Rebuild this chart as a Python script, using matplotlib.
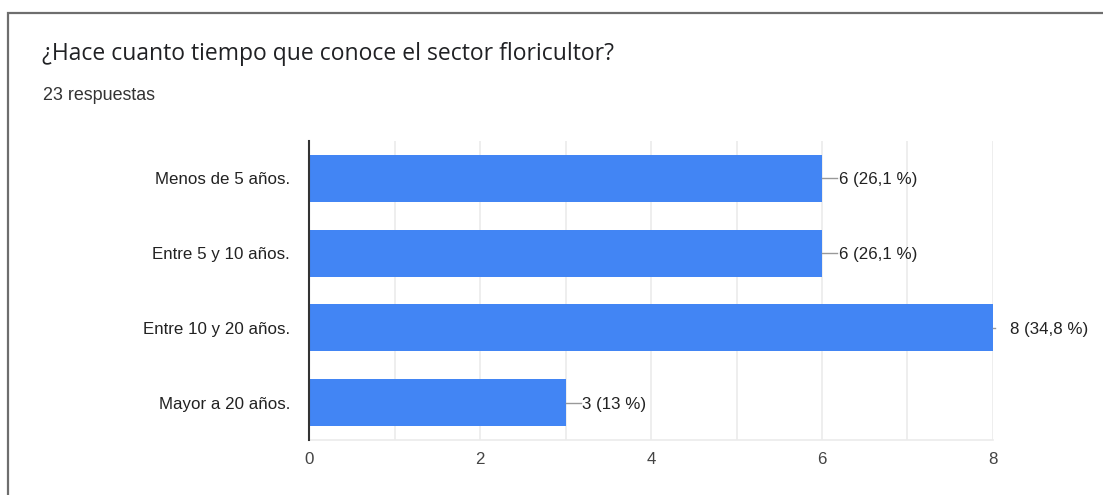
import matplotlib
matplotlib.use("Agg")
import matplotlib.pyplot as plt
from matplotlib.patches import Rectangle

categories = ["Menos de 5 años.", "Entre 5 y 10 años.", "Entre 10 y 20 años.", "Mayor a 20 años."]
counts = [6, 6, 8, 3]
pct_labels = ["26,1 %", "26,1 %", "34,8 %", "13 %"]
xticks = [0, 2, 4, 6, 8]
title = "¿Hace cuanto tiempo que conoce el sector floricultor?"
subtitle = "23 respuestas"

plt.rcParams['font.family'] = ['Liberation Sans', 'DejaVu Sans']

W, H = 1103, 495
fig = plt.figure(figsize=(W / 100, H / 100), dpi=100)
fig.patch.set_facecolor("white")

# card border
fig.add_artist(Rectangle((8 / W, -0.1), 1.2, (1 - 12.5 / H) + 0.1, transform=fig.transFigure,
                         fill=False, edgecolor="#6e6e6e", linewidth=1.6))

fig.text(42 / W, 1 - 54.5 / H, title, fontsize=16.5, color="#202124", va="center", ha="left",
         family=["Open Sans", "DejaVu Sans"])
fig.text(43 / W, 1 - 96 / H, subtitle, fontsize=12.9, color="#333333", va="center", ha="left")

ax = fig.add_axes([309 / W, 1 - 440 / H, (993 - 309) / W, (440 - 141) / H])
y = list(range(len(categories)))
ax.barh(y, counts, height=0.63, color="#4285f4", zorder=2)
ax.set_ylim(len(categories) - 0.5, -0.5)
ax.set_xlim(0, 8)
ax.set_xticks(xticks)
ax.set_xticks([1, 3, 5, 7], minor=True)
ax.set_xticklabels([str(t) for t in xticks], fontsize=12.2, color="#444444")
ax.set_yticks(y)
ax.set_yticklabels(categories, fontsize=12.2, color="#222222")
ax.tick_params(axis="both", which="both", length=0)
ax.tick_params(axis="y", pad=13.7)
ax.tick_params(axis="x", pad=8.3)
ax.grid(axis="x", which="both", color="#ebebeb", linewidth=1.2, zorder=0)
for s in ["top", "right"]:
    ax.spines[s].set_visible(False)
ax.spines["bottom"].set_color("#ebebeb")
ax.spines["bottom"].set_linewidth(1.2)
ax.spines["left"].set_color("#333333")
ax.spines["left"].set_linewidth(1.5)
ax.spines["left"].set_zorder(3)

px = 8 / (993 - 309)  # data units per pixel
for yi, c, p in zip(y, counts, pct_labels):
    line_len = 2 if c >= 8 else 15
    ax.plot([c, c + line_len * px], [yi, yi], color="#999999", lw=1, clip_on=False, zorder=3)
    ax.text(c + 17 * px, yi + 0.02, f"{c} ({p})", va="center", ha="left", fontsize=12.2,
            color="#222222", clip_on=False)

fig.savefig("out.png", dpi=100, facecolor="white")
